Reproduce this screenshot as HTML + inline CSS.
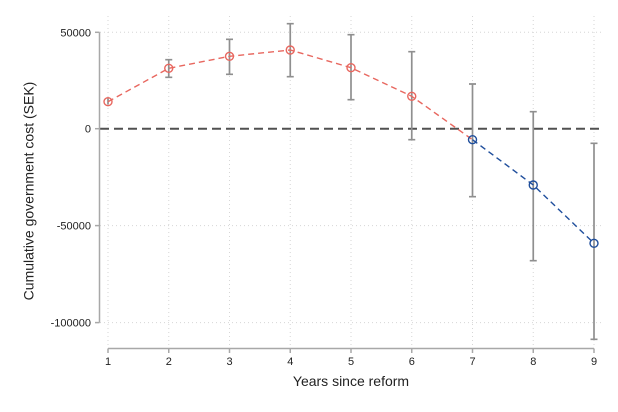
<!DOCTYPE html>
<html><head><meta charset="utf-8"><style>
html,body{margin:0;padding:0;background:#fff;}
svg{display:block;font-family:"Liberation Sans",sans-serif;}
</style></head><body>
<svg width="618" height="412" viewBox="0 0 618 412" xmlns="http://www.w3.org/2000/svg">
<rect width="618" height="412" fill="#fff"/>
<!-- vertical gridlines -->
<g stroke="#d6d6d6" stroke-width="1" stroke-dasharray="1,3">
<line x1="108" y1="16" x2="108" y2="346"/>
<line x1="168.75" y1="16" x2="168.75" y2="346"/>
<line x1="229.5" y1="16" x2="229.5" y2="346"/>
<line x1="290.25" y1="16" x2="290.25" y2="346"/>
<line x1="351" y1="16" x2="351" y2="346"/>
<line x1="411.75" y1="16" x2="411.75" y2="346"/>
<line x1="472.5" y1="16" x2="472.5" y2="346"/>
<line x1="533.25" y1="16" x2="533.25" y2="346"/>
<line x1="594" y1="16" x2="594" y2="346"/>
<line x1="100" y1="32.3" x2="604" y2="32.3"/>
<line x1="100" y1="225.6" x2="604" y2="225.6"/>
<line x1="100" y1="322.6" x2="604" y2="322.6"/>
</g>
<!-- zero line -->
<line x1="100" y1="128.7" x2="604" y2="128.7" stroke="#505050" stroke-width="2" stroke-dasharray="9,5"/>
<!-- axes -->
<g stroke="#a8a8a8" stroke-width="1.5">
<line x1="99.5" y1="32.3" x2="99.5" y2="322.6"/>
<line x1="95" y1="32.3" x2="99.5" y2="32.3"/>
<line x1="95" y1="128.7" x2="99.5" y2="128.7"/>
<line x1="95" y1="225.6" x2="99.5" y2="225.6"/>
<line x1="95" y1="322.6" x2="99.5" y2="322.6"/>
<line x1="108" y1="348.5" x2="594" y2="348.5"/>
<line x1="108" y1="348.5" x2="108" y2="353"/>
<line x1="168.75" y1="348.5" x2="168.75" y2="353"/>
<line x1="229.5" y1="348.5" x2="229.5" y2="353"/>
<line x1="290.25" y1="348.5" x2="290.25" y2="353"/>
<line x1="351" y1="348.5" x2="351" y2="353"/>
<line x1="411.75" y1="348.5" x2="411.75" y2="353"/>
<line x1="472.5" y1="348.5" x2="472.5" y2="353"/>
<line x1="533.25" y1="348.5" x2="533.25" y2="353"/>
<line x1="594" y1="348.5" x2="594" y2="353"/>
</g>
<!-- tick labels -->
<g font-size="11" fill="#222" text-anchor="end">
<text x="91" y="36.3">50000</text>
<text x="91" y="132.7">0</text>
<text x="91" y="229.6">-50000</text>
<text x="91" y="326.6">-100000</text>
</g>
<g font-size="11" fill="#222" text-anchor="middle">
<text x="108" y="365">1</text>
<text x="168.75" y="365">2</text>
<text x="229.5" y="365">3</text>
<text x="290.25" y="365">4</text>
<text x="351" y="365">5</text>
<text x="411.75" y="365">6</text>
<text x="472.5" y="365">7</text>
<text x="533.25" y="365">8</text>
<text x="594" y="365">9</text>
</g>
<text x="351" y="386" font-size="14" fill="#222" text-anchor="middle">Years since reform</text>
<text transform="translate(33.5,191) rotate(-90)" font-size="14" fill="#222" text-anchor="middle">Cumulative government cost (SEK)</text>
<!-- error bars -->
<g stroke="#8f8f8f" stroke-width="1.7" fill="none">
<path d="M108 98.5V104.5"/>
<path d="M168.75 59.7V77.3M165.25 59.7H172.25M165.25 77.3H172.25"/>
<path d="M229.5 39.3V74.3M226 39.3H233M226 74.3H233"/>
<path d="M290.25 23.7V76.7M286.75 23.7H293.75M286.75 76.7H293.75"/>
<path d="M351 34.7V99.7M347.5 34.7H354.5M347.5 99.7H354.5"/>
<path d="M411.75 51.7V139.7M408.25 51.7H415.25M408.25 139.7H415.25"/>
<path d="M472.5 84V196.7M469 84H476M469 196.7H476"/>
<path d="M533.25 111.7V260.7M529.75 111.7H536.75M529.75 260.7H536.75"/>
<path d="M594 143.3V339.3M590.5 143.3H597.5M590.5 339.3H597.5"/>
</g>
<!-- series lines -->
<polyline points="108,101.7 168.75,68.3 229.5,56.3 290.25,50 351,67.7 411.75,96.3 472.5,139.7" fill="none" stroke="#e8675f" stroke-width="1.4" stroke-dasharray="6,4"/>
<polyline points="472.5,139.7 533.25,185 594,243.3" fill="none" stroke="#1f4e9c" stroke-width="1.4" stroke-dasharray="6,4"/>
<!-- markers -->
<g fill="none" stroke="#e8675f" stroke-width="1.4">
<circle cx="108" cy="101.7" r="4"/>
<circle cx="168.75" cy="68.3" r="4"/>
<circle cx="229.5" cy="56.3" r="4"/>
<circle cx="290.25" cy="50" r="4"/>
<circle cx="351" cy="67.7" r="4"/>
<circle cx="411.75" cy="96.3" r="4"/>
</g>
<g fill="none" stroke="#1f4e9c" stroke-width="1.4">
<circle cx="472.5" cy="139.7" r="4"/>
<circle cx="533.25" cy="185" r="4"/>
<circle cx="594" cy="243.3" r="4"/>
</g>
</svg>
</body></html>
